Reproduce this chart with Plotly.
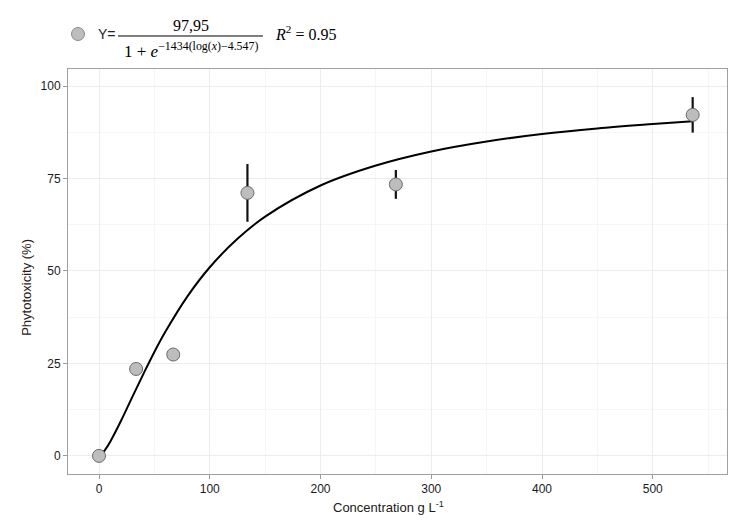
import plotly.graph_objects as go

# -----------------------------
# Data
# -----------------------------
conc = [0, 33.5, 67, 134, 268, 536]
phyto = [0, 23.5, 27.4, 71.1, 73.4, 92.2]
phyto_err = [0.8, 0.8, 1.5, 7.8, 3.9, 4.8]

# fitted log-logistic curve
fit_x = [0, 2, 5, 10, 20, 30, 40, 50, 60, 80, 100, 125, 150, 200,
         250, 300, 350, 400, 450, 500, 536]
fit_y = [0, 0.39, 1.43, 3.77, 9.56, 15.9, 22.1, 28.1, 33.6, 43.2, 51.0,
         58.7, 64.7, 73.1, 78.5, 82.3, 85.0, 87.0, 88.5, 89.7, 90.5]

x_ticks = [0, 100, 200, 300, 400, 500]
y_ticks = [0, 25, 50, 75, 100]

sans = "Liberation Sans, Arial, sans-serif"
serif = "Liberation Serif, DejaVu Serif, serif"

fig = go.Figure()

fig.add_trace(go.Scatter(
    x=fit_x, y=fit_y, mode="lines", line_shape="spline",
    line=dict(color="black", width=2), showlegend=False, hoverinfo="skip",
))

fig.add_trace(go.Scatter(
    x=conc, y=phyto, mode="markers",
    error_y=dict(type="data", array=phyto_err, color="#111111",
                 thickness=2.2, width=0),
    marker=dict(size=13, color="#bdbdbd", line=dict(color="#6a6a6a", width=1)),
    showlegend=False,
))

# -----------------------------
# Legend-like equation above the panel
# -----------------------------
fig.add_shape(type="circle", xref="paper", yref="paper",
              xsizemode="pixel", ysizemode="pixel",
              xanchor=0.0152, yanchor=1.0864, x0=-6.5, x1=6.5, y0=-6.5, y1=6.5,
              fillcolor="#bdbdbd", line=dict(color="#8a8a8a", width=1))
fig.add_shape(type="line", xref="paper", yref="paper",
              x0=0.0759, x1=0.2959, y0=1.0815, y1=1.0815,
              line=dict(color="black", width=1))

annotations = [
    dict(text="Y=", x=0.0425, y=1.0864, xanchor="left", yanchor="middle",
         font=dict(family=sans, size=14, color="#222222")),
    dict(text="97,95", x=0.1866, y=1.1086, xanchor="center", yanchor="middle",
         font=dict(family=serif, size=16, color="black")),
    dict(text="1 + <i>e</i><sup>−1434(log(<i>x</i>)−4.547)</sup>",
         x=0.082, y=1.047, xanchor="left", yanchor="middle",
         font=dict(family=serif, size=17, color="black")),
    dict(text="<i>R</i><sup>2</sup> = 0.95", x=0.311, y=1.089,
         xanchor="left", yanchor="middle",
         font=dict(family=serif, size=16, color="black")),
    dict(text="Phytotoxicity (%)", x=-0.062, y=0.46, textangle=-90,
         xanchor="center", yanchor="middle",
         font=dict(family=sans, size=13, color="#2a1a1a")),
    dict(text="Concentration g L<sup>-1</sup>", x=0.487, y=-0.082,
         xanchor="center", yanchor="middle",
         font=dict(family=sans, size=13, color="#1a1a1a")),
]
for a in annotations:
    fig.add_annotation(xref="paper", yref="paper", showarrow=False, **a)

# page body adds an 8px offset, so the figure is sized to fit after it
fig.update_layout(
    width=728, height=523,
    margin=dict(l=60, r=9, t=61, b=57),
    plot_bgcolor="white", paper_bgcolor="white",
    showlegend=False,
    font=dict(family=sans, size=12, color="#1a1a1a"),
)
fig.update_xaxes(
    range=[-28, 567], tickvals=x_ticks, ticks="outside", ticklen=4,
    tickcolor="#9a9a9a", showline=True, mirror=True, linecolor="#a0a0a0",
    linewidth=1, showgrid=True, gridcolor="#ececec", zeroline=False,
    minor=dict(dtick=50, showgrid=True, gridcolor="#f6f6f6"),
    tickfont=dict(size=12, color="#1a1a1a"),
)
fig.update_yaxes(
    range=[-4.9, 104.6], tickvals=y_ticks, ticks="outside", ticklen=4,
    tickcolor="#9a9a9a", showline=True, mirror=True, linecolor="#a0a0a0",
    linewidth=1, showgrid=True, gridcolor="#ececec", zeroline=False,
    minor=dict(dtick=12.5, showgrid=True, gridcolor="#f6f6f6"),
    tickfont=dict(size=12, color="#1a1a1a"),
)

fig.write_html("out.html")
